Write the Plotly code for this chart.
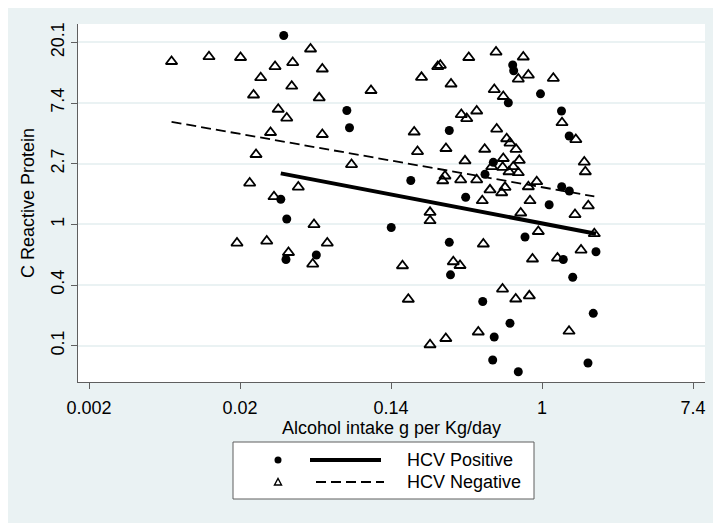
import plotly.graph_objects as go

# Values on natural-log scale (axes labelled with exp values)
x_tickvals = [-6, -4, -2, 0, 2]
x_ticktext = ["0.002", "0.02", "0.14", "1", "7.4"]
y_tickvals = [-2, -1, 0, 1, 2, 3]
y_ticktext = ["0.1", "0.4", "1", "2.7", "7.4", "20.1"]

# HCV positive (ln alcohol intake, ln CRP)
pos_x = [-3.421, -3.460, -3.381, -3.391, -2.989, -2.585, -2.550, -1.738, -1.997, -1.228,
         -1.228, -1.212, -0.388, -0.375, -0.446, -0.020, -0.645, -0.755, -1.011, -0.225,
         -0.785, -0.424, -0.633, -0.653, -0.314, 0.258, 0.360, 0.261, 0.362, 0.095,
         0.282, 0.715, 0.407, 0.679, 0.609]
pos_y = [3.112, 0.413, 0.088, -0.579, -0.505, 1.876, 1.593, 0.722, -0.052, 1.546,
         -0.296, -0.832, 2.626, 2.532, 2.005, 2.151, 1.022, 0.825, 0.446, -0.209,
         -1.272, -1.629, -1.857, -2.236, -2.429, 1.868, 1.456, 0.620, 0.549, 0.324,
         -0.579, -0.451, -0.871, -1.466, -2.285]

# HCV negative
neg_x = [-4.907, -4.411, -3.993, -3.066, -3.536, -3.302, -3.726, -3.315, -3.821, -3.494,
         -3.381, -3.596, -3.788, -3.872, -3.228, -3.550, -3.020, -4.040, -3.646, -3.358,
         -3.037, -2.910, -2.951, -2.910, -2.265, -2.523, -1.596, -1.381, -1.347, -1.205,
         -1.693, -1.649, -1.272, -1.285, -1.315, -1.483, -1.483, -2.844, -1.848, -1.771,
         -1.483, -1.274, -1.175, -1.086, -0.970, -0.609, -0.248, -0.181, -0.314, -0.632,
         -0.513, -1.069, -0.997, -0.865, -0.600, -0.468, -0.424, -0.344, -0.759, -1.020,
         -0.513, -0.301, -0.666, -0.521, -0.380, -0.437, -0.314, -1.077, -0.865, -0.490,
         -0.534, -0.689, -0.791, -0.181, -0.070, -0.159, -0.282, -0.049, -0.777, -0.126,
         -0.523, -0.348, -0.168, -0.844, 0.150, 0.265, 0.448, 0.560, 0.574, 0.613,
         0.437, 0.693, 0.517, 0.205, 0.358]
neg_y = [2.684, 2.763, 2.750, 2.890, 2.601, 2.667, 2.417, 2.277, 2.132, 1.897,
         1.752, 1.514, 1.151, 0.681, 0.615, 0.456, -0.003, -0.308, -0.275, -0.464,
         -0.654, 2.560, 2.085, 1.481, 2.206, 0.986, 2.423, 2.601, 2.621, 2.313,
         1.522, 1.200, 1.250, 0.797, 0.719, 0.198, 0.060, -0.308, -0.682, -1.234,
         -1.984, -1.881, -0.616, -0.678, 2.750, 2.840, 2.758, 2.461, 2.395, 2.222,
         2.107, 1.810, 1.744, 1.868, 1.571, 1.411, 1.340, 1.237, 1.238, 1.047,
         1.085, 1.055, 0.950, 0.940, 0.950, 0.867, 0.851, 0.734, 0.734, 0.610,
         0.521, 0.569, 0.390, 0.620, 0.703, 0.390, 0.187, -0.118, -0.324, -0.571,
         -1.066, -1.230, -1.178, -1.774, 2.407, 1.675, 1.398, 1.027, 0.867, 0.306,
         0.162, -0.154, -0.423, -0.555, -1.761]

# Fitted lines (endpoints)
fit_pos_x = [-3.46, 0.715]
fit_pos_y = [0.84, -0.155]
fit_neg_x = [-4.907, 0.693]
fit_neg_y = [1.69, 0.46]

legend_labels = ["HCV Positive", "HCV Negative"]

BG = "#EAF2F3"
AX = "#5f5f5f"
FONT = "Liberation Sans, Arial, sans-serif"

fig = go.Figure()
fig.add_trace(go.Scatter(x=neg_x, y=neg_y, mode="markers",
                         marker=dict(symbol="triangle-up-open", size=10, color="black",
                                     line=dict(width=1.8, color="black")),
                         showlegend=False))
fig.add_trace(go.Scatter(x=pos_x, y=pos_y, mode="markers",
                         marker=dict(symbol="circle", size=9, color="black"),
                         showlegend=False))
fig.add_trace(go.Scatter(x=fit_pos_x, y=fit_pos_y, mode="lines",
                         line=dict(color="black", width=4), showlegend=False))
fig.add_trace(go.Scatter(x=fit_neg_x, y=fit_neg_y, mode="lines",
                         line=dict(color="black", width=1.8, dash="10px,5px"), showlegend=False))

OFF = 8  # page offset of the figure (body margin)
W, H = 721 - OFF, 523 - OFF
L, T = 78 - OFF, 24 - OFF
R = 721 - 705
B = H - (382 - OFF)
pw, ph = W - L - R, H - T - B


def px(xp):
    return (xp - OFF - L) / pw


def py(yp):
    return (H - B - (yp - OFF)) / ph


shapes = []
# legend box
shapes.append(dict(type="rect", xref="paper", yref="paper", x0=px(233), x1=px(534),
                   y0=py(499), y1=py(442), fillcolor="white", line=dict(color=AX, width=1)))
# legend circle
r = 3.5
shapes.append(dict(type="circle", xref="paper", yref="paper", x0=px(278 - r), x1=px(278 + r),
                   y0=py(460 + r), y1=py(460 - r), fillcolor="black", line=dict(width=0)))
# legend triangle
tx, ty = 278, 482
shapes.append(dict(type="path", xref="paper", yref="paper",
                   path=f"M {px(tx-3.5)},{py(ty+3)} L {px(tx+3.5)},{py(ty+3)} L {px(tx)},{py(ty-3.5)} Z",
                   line=dict(color="black", width=1.4)))
# legend lines
shapes.append(dict(type="line", xref="paper", yref="paper", x0=px(310), x1=px(381),
                   y0=py(460), y1=py(460), line=dict(color="black", width=4)))
shapes.append(dict(type="line", xref="paper", yref="paper", x0=px(316), x1=px(384),
                   y0=py(482), y1=py(482), line=dict(color="black", width=1.8, dash="10px,5px")))

annotations = []
for lab, yy in zip(legend_labels, [460, 482]):
    annotations.append(dict(text=lab, xref="paper", yref="paper", x=px(405), y=py(yy),
                            xanchor="left", yanchor="middle", showarrow=False,
                            font=dict(family=FONT, size=18, color="black")))

fig.update_layout(
    width=W, height=H,
    margin=dict(l=L, r=R, t=T, b=B, autoexpand=False),
    paper_bgcolor=BG, plot_bgcolor="white",
    font=dict(family=FONT, size=18, color="black"),
    shapes=shapes, annotations=annotations, showlegend=False,
    xaxis=dict(range=[-6.146, 2.159], tickvals=x_tickvals, ticktext=x_ticktext,
               showgrid=False, zeroline=False, showline=True, linecolor=AX, linewidth=1.2,
               ticks="outside", ticklen=6, tickcolor=AX, tickwidth=1.2,
               ticklabelstandoff=3,
               tickfont=dict(size=18), title=dict(text="Alcohol intake g per Kg/day",
                                                  font=dict(size=18), standoff=0)),
    yaxis=dict(range=[-2.598, 3.302], tickvals=y_tickvals, ticktext=y_ticktext,
               showgrid=True, gridcolor=BG, gridwidth=1.5, zeroline=False,
               showline=True, linecolor=AX, linewidth=1.2,
               ticks="outside", ticklen=6, tickcolor=AX, tickwidth=1.2, tickangle=-90,
               tickfont=dict(size=18), title=dict(text="C Reactive Protein",
                                                  font=dict(size=18), standoff=8)),
)

fig.write_html("out.html")
